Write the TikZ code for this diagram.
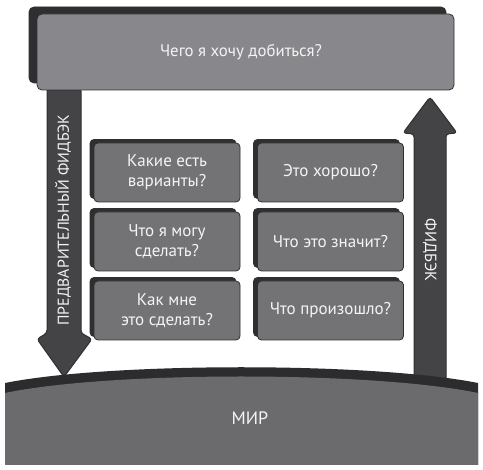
\documentclass[tikz,border=0pt]{standalone}
\usepackage{fontspec}
\setmainfont{PT Sans}
\usetikzlibrary{shadows}
\definecolor{topface}{HTML}{88888C}
\definecolor{shadowdark}{HTML}{2F2F31}
\definecolor{boxface}{HTML}{737375}
\definecolor{arrowfill}{HTML}{444446}
\definecolor{worldface}{HTML}{6B6B6D}
\definecolor{worldband}{HTML}{2C2C2E}
\definecolor{txt}{HTML}{F4F4F4}
\tikzset{
  qbox/.style={rectangle, rounded corners=4pt, fill=boxface, draw=shadowdark, line width=0.8pt,
    minimum width=146pt, minimum height=59pt, text=txt, align=center, font=\fontsize{17}{20}\selectfont,
    copy shadow={shadow xshift=-4pt, shadow yshift=3.5pt, fill=shadowdark, draw=shadowdark}},
  goalbox/.style={rectangle, rounded corners=5pt, fill=topface, draw=shadowdark, line width=0.8pt,
    minimum width=417pt, minimum height=76pt, text=txt, font=\fontsize{16.8}{19}\selectfont,
    copy shadow={shadow xshift=-8pt, shadow yshift=7pt, fill=shadowdark, draw=shadowdark}},
  arrowshape/.style={fill=arrowfill, draw=shadowdark, line width=1pt, rounded corners=3pt},
  vlabel/.style={text=txt, inner sep=0pt},
}
\begin{document}
\begin{tikzpicture}[x=1pt,y=-1pt]
\useasboundingbox (0,0) rectangle (483,470);
\fill[white] (0,0) rectangle (483,470);
% arrows
\draw[arrowshape] (47,88) -- (47,333) -- (37,339) -- (64,377) -- (92,339) -- (81,333) -- (81,88) -- cycle;
\draw[arrowshape] (414,400) -- (414,134) -- (403,133) -- (430,97) -- (457,133) -- (446,134) -- (446,400) -- cycle;
\node[vlabel, rotate=90, font=\fontsize{15.8}{18}\selectfont] (pre) at (63,220) {ПРЕДВАРИТЕЛЬНЫЙ ФИДБЭК};
\node[vlabel, rotate=-90, font=\fontsize{16.2}{18}\selectfont] (fb) at (430,250) {ФИДБЭК};
% top goal box
\node[goalbox] (goal) at (245.5,52) {};
\node[vlabel, font=\fontsize{16.8}{19}\selectfont] (goaltext) at (241,52) {Чего я хочу добиться?};
% question boxes
\node[qbox] (b1) at (167,172.5) {Какие есть\\варианты?};
\node[qbox] (b2) at (167,241.5) {Что я могу\\сделать?};
\node[qbox] (b3) at (167,310.5) {Как мне\\это сделать?};
\node[qbox] (b4) at (330.5,172.5) {Это хорошо?};
\node[qbox] (b5) at (330.5,241.5) {Что это значит?};
\node[qbox] (b6) at (330.5,310.5) {Что произошло?};
% world
\fill[worldband] (5,383) .. controls (110,362) and (372,362) .. (478,383) -- (478,465) -- (5,465) -- cycle;
\fill[worldface] (5,393) .. controls (110,371) and (372,371) .. (478,393) -- (478,465) -- (5,465) -- cycle;
\node[vlabel, font=\fontsize{18}{20}\selectfont] (world) at (250,418) {МИР};
\end{tikzpicture}
\end{document}
